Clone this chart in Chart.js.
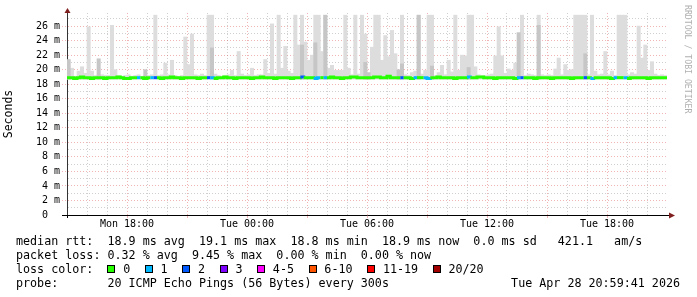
<!DOCTYPE html>
<html><head><meta charset="utf-8">
<script src="https://cdn.jsdelivr.net/npm/chart.js@4.4.1/dist/chart.umd.min.js"></script>
<style>
html,body{margin:0;padding:0;background:#fff;}
#wrap{position:relative;width:697px;height:297px;overflow:hidden;background:#fff;}
canvas{position:absolute;left:0;top:0;}
.lg{position:absolute;left:16px;font-family:'DejaVu Sans Mono',monospace;font-size:11.7px;line-height:14px;white-space:pre;color:#000;}
.bx{display:inline-block;width:6px;height:6px;border:1px solid #000;vertical-align:middle;margin-right:7.7px;position:relative;top:-1px;}
.it{margin-right:14.7px;}
#rrd{position:absolute;left:684px;top:5px;writing-mode:vertical-rl;font-family:'DejaVu Sans Mono',monospace;font-size:8.2px;line-height:8px;color:#b0b0b0;white-space:pre;}
#date{position:absolute;right:17px;top:276px;font-family:'DejaVu Sans Mono',monospace;font-size:11.7px;line-height:14px;white-space:pre;color:#000;}
</style></head>
<body><div id="wrap"><canvas id="c" width="697" height="297"></canvas>
<div id="rrd">RRDTOOL / TOBI OETIKER</div>
<div class="lg" id="l1" style="top:234px"></div>
<div class="lg" id="l2" style="top:248px"></div>
<div class="lg" id="l3" style="top:262px"></div>
<div class="lg" id="l4" style="top:276px"></div>
<div id="date"></div>
</div>
<script>
// ---- data (10-minute slots starting Mon 15:00, 30 hours) ----
const slotHours = 1 / 6;
const rangeHours = 30;
const minPing = 18.7;
const yMax = 27.8;

const median = [
18.9,18.9,18.8,18.9,19.0,18.9,18.9,18.8,18.9,18.9,
18.9,18.8,18.9,18.9,18.9,19.0,18.9,18.8,18.8,18.9,
18.9,18.9,18.9,18.8,18.9,18.9,18.9,18.9,18.8,18.9,
18.9,19.0,18.9,18.9,18.8,18.9,18.9,18.9,18.9,18.8,
18.9,18.9,18.9,18.9,18.8,18.9,18.9,19.0,18.9,18.9,
18.8,18.9,18.9,18.9,18.9,18.8,18.9,18.9,19.0,18.9,
18.9,18.9,18.8,18.9,18.9,18.9,18.9,18.8,18.9,18.9,
19.0,18.9,18.9,18.9,18.8,18.9,18.9,18.9,18.9,19.0,
18.9,18.9,18.8,18.9,18.9,19.0,19.0,18.9,18.9,18.9,
18.9,18.9,19.0,19.0,18.9,18.9,19.1,18.9,18.9,18.9,
18.9,18.9,18.9,18.8,18.9,18.9,18.9,18.9,18.8,18.9,
18.9,19.0,18.9,18.9,18.9,18.9,18.8,18.9,18.9,18.9,
19.0,18.9,18.9,19.0,19.0,18.9,18.9,18.9,18.8,18.9,
18.9,18.9,18.9,18.9,18.8,18.9,18.9,18.9,18.9,18.9,
18.8,18.9,18.9,18.9,18.9,18.8,18.9,18.9,18.9,18.9,
18.9,18.8,18.9,18.9,18.9,18.9,18.9,18.8,18.9,18.9,
18.9,18.9,18.9,18.8,18.9,18.9,18.9,18.9,18.8,18.9,
18.9,18.9,18.9,18.9,18.8,18.9,18.9,18.9,18.9,18.9];

const smokeMax = [
19.4,20.2,19.1,19.8,20.4,19.5,25.9,19.8,19.2,19.3,
19.3,19.2,19.2,26.1,20.0,19.2,19.1,19.2,19.3,19.1,
19.2,19.3,19.1,19.2,19.2,19.3,27.5,19.2,19.3,20.9,
19.3,21.3,19.2,19.1,19.2,24.5,20.7,24.9,19.3,19.2,
19.4,19.2,27.5,27.5,19.4,19.2,19.1,19.2,19.3,19.9,
19.2,22.5,19.4,19.2,19.3,20.2,19.2,19.3,19.3,21.4,
19.5,26.3,19.4,27.5,20.2,23.2,19.8,19.5,27.5,23.4,
27.5,23.8,21.3,22.0,27.5,27.5,22.5,27.5,20.2,20.6,
19.9,19.9,19.9,27.5,20.2,19.3,27.5,19.4,27.5,24.9,
19.3,23.1,27.5,27.5,21.3,24.7,21.8,25.4,22.2,19.9,
27.5,19.3,19.2,19.6,19.8,27.5,19.4,19.9,27.5,27.5,
19.2,19.6,20.6,19.3,21.3,19.7,27.5,19.9,22.0,21.9,
27.5,27.5,20.4,19.3,19.2,19.2,19.3,19.4,21.9,25.9,
21.9,19.5,20.1,19.9,20.9,21.9,27.5,19.2,19.4,19.3,
19.2,27.5,19.3,19.2,19.3,19.2,20.1,21.6,19.3,20.7,
19.9,20.0,27.5,27.5,27.5,27.5,19.3,27.5,19.8,19.3,
19.4,22.5,19.3,19.8,19.2,27.5,27.5,27.5,19.3,19.6,
19.4,26.0,21.6,23.4,19.9,21.1,19.4,19.2,19.3,19.2];

const smokeMidSlots  = [0,9,23,43,70,74,77,89,90,99,100,105,109,120,135,141,155];
const smokeMidValues = [21.4,21.5,20.0,23.0,23.4,23.7,27.5,21.0,19.6,20.0,20.8,27.5,20.5,20.3,25.1,26.1,22.2];

const lossSlots  = [21,25,26,42,43,70,74,75,77,100,104,107,108,120,135,136,155,157,164,167];
const lossCounts = [1,1,2,2,1,2,1,1,1,2,1,1,1,1,1,2,2,1,1,1];

const xTickHours  = [3, 9, 15, 21, 27];
const xTickLabels = ['Mon 18:00','Tue 00:00','Tue 06:00','Tue 12:00','Tue 18:00'];
const yTickValues = [0,2,4,6,8,10,12,14,16,18,20,22,24,26];
const yTickLabels = ['0  ','2 m','4 m','6 m','8 m','10 m','12 m','14 m','16 m','18 m','20 m','22 m','24 m','26 m'];

const lossLegendLabels = ['0','1','2','3','4-5','6-10','11-19','20/20'];
const lossLegendColors = ['#26ff00','#00b8ff','#0059ff','#7e00ff','#ff00ff','#ff5500','#ff0000','#a10000'];

const statsRtt  = ['18.9 ms avg','19.1 ms max','18.8 ms min','18.9 ms now','0.0 ms sd','421.1   am/s'];
const statsLoss = ['0.32 % avg','9.45 % max','0.00 % min','0.00 % now'];
const probeText = '20 ICMP Echo Pings (56 Bytes) every 300s';
const dateText  = 'Tue Apr 28 20:59:41 2026';

// ---- build chart ----
const MAJOR = 'rgba(222,79,79,0.42)';
const MINOR = 'rgba(143,143,143,0.42)';
const NONE = 'rgba(0,0,0,0)';

function lossColor(idx) {
  const k = lossSlots.indexOf(idx);
  const n = k >= 0 ? lossCounts[k] : 0;
  if (n === 0) return lossLegendColors[0];
  if (n === 1) return lossLegendColors[1];
  if (n === 2) return lossLegendColors[2];
  return lossLegendColors[3];
}

const lightData = smokeMax.map((v, i) => ({x: (i + 0.5) * slotHours, y: [minPing, v]}));
const midData = smokeMidSlots.map((s, k) => ({x: (s + 0.5) * slotHours, y: [minPing, smokeMidValues[k]]}));
const lineData = median.map((v, i) => ({x: i * slotHours, y: v}));
lineData.push({x: rangeHours, y: median[median.length - 1]});

const arrows = {
  id: 'arrows',
  afterDraw(chart) {
    const {ctx, chartArea: a} = chart;
    ctx.save();
    ctx.strokeStyle = '#000';
    ctx.lineWidth = 1;
    ctx.beginPath();
    ctx.moveTo(a.right, a.bottom + 0.5); ctx.lineTo(a.right + 3, a.bottom + 0.5);
    ctx.moveTo(a.left + 0.5, a.bottom); ctx.lineTo(a.left + 0.5, a.bottom + 3);
    ctx.stroke();
    ctx.fillStyle = '#801f1f';
    ctx.beginPath();
    ctx.moveTo(a.left - 2.5, a.top); ctx.lineTo(a.left + 3.5, a.top); ctx.lineTo(a.left + 0.5, a.top - 5);
    ctx.closePath(); ctx.fill();
    ctx.beginPath();
    ctx.moveTo(a.right + 2, a.bottom - 2.5); ctx.lineTo(a.right + 2, a.bottom + 3.5); ctx.lineTo(a.right + 8, a.bottom + 0.5);
    ctx.closePath(); ctx.fill();
    ctx.restore();
  }
};

Chart.defaults.font.family = "'DejaVu Sans Mono', monospace";
Chart.defaults.color = '#000';

new Chart(document.getElementById('c'), {
  type: 'line',
  data: {
    datasets: [
      {type: 'line', data: lineData, order: 0, stepped: true, borderWidth: 3, pointRadius: 0,
       borderColor: lossLegendColors[0], fill: false, borderCapStyle: 'butt',
       segment: {borderColor: c => lossColor(c.p0DataIndex)}},
      {type: 'bar', data: midData, order: 1, backgroundColor: '#c6c6c6', borderWidth: 0,
       barPercentage: 1, categoryPercentage: 1, grouped: false},
      {type: 'bar', data: lightData, order: 2, backgroundColor: '#dddddd', borderWidth: 0,
       barPercentage: 1, categoryPercentage: 1, grouped: false}
    ]
  },
  options: {
    responsive: false,
    animation: false,
    events: [],
    layout: {padding: {left: 0, right: 30, top: 13, bottom: 62}},
    plugins: {legend: {display: false}, tooltip: {enabled: false}},
    scales: {
      x: {
        type: 'linear', min: 0, max: rangeHours, offset: false,
        afterFit: s => { s.height = 20; },
        ticks: {
          stepSize: 1, autoSkip: false, maxRotation: 0, minRotation: 0, padding: 0,
          font: {size: 10}, color: '#000',
          callback: v => {
            if (v === 0 || v === rangeHours) return null;
            const k = xTickHours.indexOf(v);
            return k >= 0 ? xTickLabels[k] : '';
          }
        },
        grid: {
          offset: false, lineWidth: 1, drawTicks: true, tickLength: 3,
          color: c => (!c.tick || c.tick.value === 0 || c.tick.value === rangeHours) ? NONE : (c.tick.value % 3 === 0 ? MAJOR : MINOR),
          tickColor: c => (c.tick && c.tick.value % 3 === 0 && c.tick.value > 0 && c.tick.value < rangeHours) ? MAJOR : NONE,
          tickBorderDash: []
        },
        border: {display: true, color: '#000', width: 1, dash: [1, 2]}
      },
      y: {
        type: 'linear', min: 0, max: yMax,
        afterFit: s => { s.width = 67; },
        ticks: {
          stepSize: 1, includeBounds: false, autoSkip: false, padding: 2,
          font: {size: 10}, color: '#000',
          callback: v => { const k = yTickValues.indexOf(v); return k >= 0 ? yTickLabels[k] : ''; }
        },
        grid: {
          lineWidth: 1, drawTicks: true, tickLength: 5,
          color: c => (!c.tick || c.tick.value === 0) ? NONE : (c.tick.value % 2 === 0 ? MAJOR : MINOR),
          tickColor: c => (!c.tick) ? NONE : (c.tick.value === 0 ? '#000' : (c.tick.value % 2 === 0 ? MAJOR : NONE)),
          tickBorderDash: c => (c.tick && c.tick.value === 0) ? [] : [1, 2]
        },
        border: {display: true, color: '#333', width: 1, dash: [1, 2]},
        title: {display: true, text: 'Seconds', font: {size: 11.5}, color: '#000', padding: {top: 2, bottom: 0}}
      }
    }
  },
  plugins: [arrows]
});

// ---- legend text ----
document.getElementById('l1').textContent = 'median rtt:  ' + statsRtt.slice(0, 4).join('  ') + '  ' + statsRtt[4] + '   ' + statsRtt[5];
document.getElementById('l2').textContent = 'packet loss: ' + statsLoss.join('  ');
let h = 'loss color:  ';
lossLegendLabels.forEach((lab, i) => {
  h += '<span class="bx" style="background:' + lossLegendColors[i] + '"></span><span class="it">' + lab + '</span>';
});
document.getElementById('l3').innerHTML = h;
document.getElementById('l4').textContent = 'probe:       ' + probeText;
document.getElementById('date').textContent = dateText;
</script>
</body></html>
